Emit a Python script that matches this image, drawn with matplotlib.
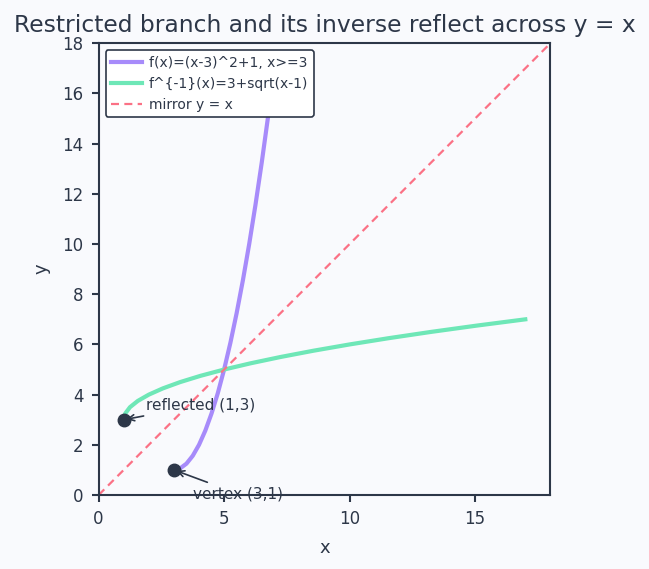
import matplotlib
matplotlib.use("Agg")
import matplotlib.pyplot as plt

# points on the restricted branch f(x) = (x-3)^2 + 1, x >= 3
branch_x = [3.0, 3.25, 3.5, 3.75, 4.0, 4.25, 4.5, 4.75, 5.0, 5.25, 5.5, 5.75,
            6.0, 6.25, 6.5, 6.75, 7.0]
branch_y = [1.0, 1.0625, 1.25, 1.5625, 2.0, 2.5625, 3.25, 4.0625, 5.0, 6.0625,
            7.25, 8.5625, 10.0, 11.5625, 13.25, 15.0625, 17.0]
# the inverse is the same points with x and y swapped
inverse_x = branch_y
inverse_y = branch_x

mirror = [0, 18]
vertex = (3, 1)
reflected = (1, 3)

labels = ["f(x)=(x-3)^2+1, x>=3", "f^{-1}(x)=3+sqrt(x-1)", "mirror y = x"]

ink = "#2d3748"
bg = "#f9fafd"

plt.rcParams["text.color"] = ink
plt.rcParams["axes.labelcolor"] = ink
plt.rcParams["xtick.color"] = ink
plt.rcParams["ytick.color"] = ink

fig = plt.figure(figsize=(6.49, 5.69), dpi=100, facecolor=bg)
ax = fig.add_axes([0.151, 0.130, 0.698, 0.794])
ax.set_facecolor(bg)

ax.plot(branch_x, branch_y, color="#a78bfa", lw=3, label=labels[0])
ax.plot(inverse_x, inverse_y, color="#6ee7b7", lw=3, label=labels[1])
ax.plot(mirror, mirror, color="#fb7185", lw=1.6, ls=(0, (3.6, 2.4)), label=labels[2])

ax.plot(*vertex, "o", color=ink, ms=9, zorder=5)
ax.plot(*reflected, "o", color=ink, ms=9, zorder=5)
arrow = dict(arrowstyle="->", color=ink, lw=1.2)
ax.annotate("vertex (3,1)", xy=vertex, xytext=(3.75, -0.12), fontsize=11, arrowprops=arrow)
ax.annotate("reflected (1,3)", xy=reflected, xytext=(1.9, 3.4), fontsize=11, arrowprops=arrow)

ax.set_xlim(0, 18)
ax.set_ylim(0, 18)
ax.set_aspect("equal", adjustable="box")
ax.set_xticks([0, 5, 10, 15])
ax.set_yticks(range(0, 19, 2))
ax.tick_params(labelsize=12, width=1.5, length=5, pad=6)
for spine in ax.spines.values():
    spine.set_color(ink)
    spine.set_linewidth(1.5)
ax.set_xlabel("x", fontsize=13, labelpad=8)
ax.set_ylabel("y", fontsize=13, labelpad=8)
ax.set_title("Restricted branch and its inverse reflect across y = x", fontsize=16.8, pad=8)

leg = ax.legend(loc="upper left", fontsize=10, frameon=True, facecolor="white",
                edgecolor=ink, framealpha=1, handlelength=2.2, handletextpad=0.5)
leg.get_frame().set_linewidth(1.2)

fig.savefig("out.png", dpi=100, facecolor=bg)
